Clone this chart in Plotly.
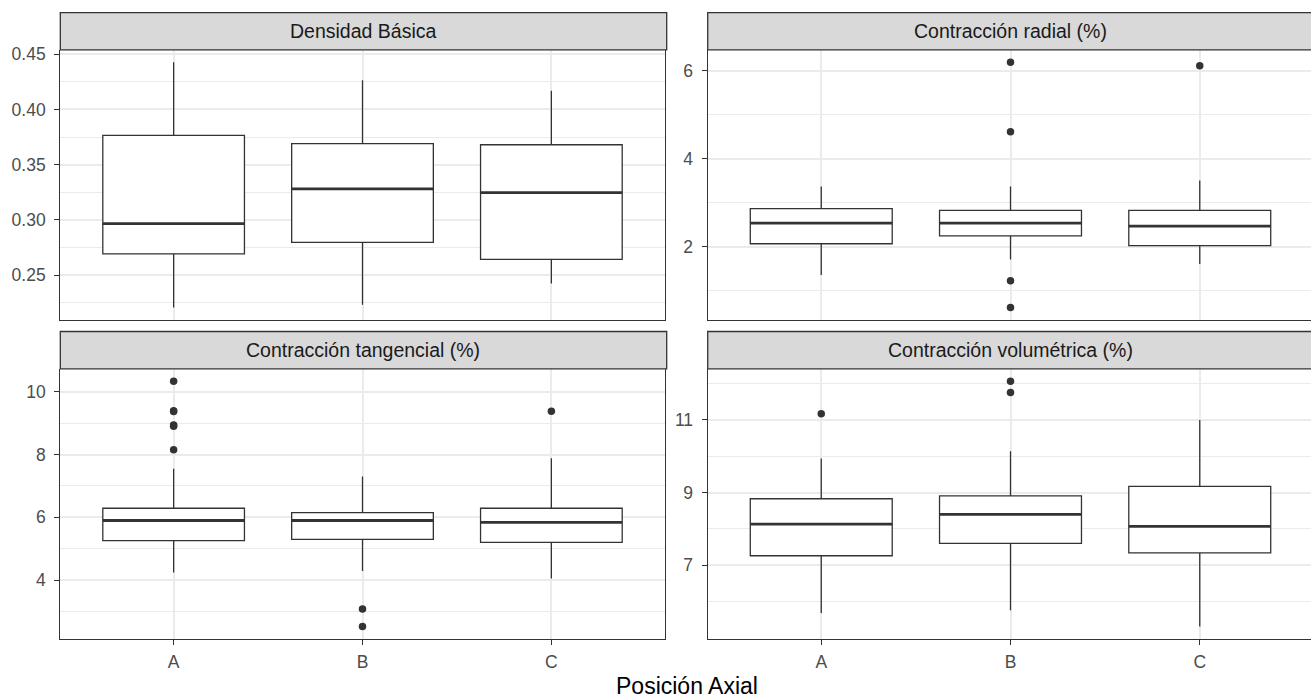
import plotly.graph_objects as go

W, H = 1311, 700

categories = ["A", "B", "C"]
panel_titles = ["Densidad Básica", "Contracción radial (%)",
                "Contracción tangencial (%)", "Contracción volumétrica (%)"]

# Densidad Básica
dens_low = [0.2206, 0.2232, 0.2424]
dens_q1 = [0.2692, 0.2796, 0.2642]
dens_med = [0.2966, 0.3281, 0.3247]
dens_q3 = [0.3765, 0.3690, 0.3680]
dens_high = [0.4428, 0.4265, 0.4169]
dens_out_x = []
dens_out_y = []
dens_ticks = [0.25, 0.30, 0.35, 0.40, 0.45]

# Contracción radial
rad_low = [1.36, 1.71, 1.61]
rad_q1 = [2.07, 2.25, 2.03]
rad_med = [2.54, 2.54, 2.47]
rad_q3 = [2.87, 2.83, 2.83]
rad_high = [3.37, 3.37, 3.51]
rad_out_x = ["B", "B", "B", "B", "C"]
rad_out_y = [6.20, 4.62, 1.23, 0.62, 6.12]
rad_ticks = [2, 4, 6]

# Contracción tangencial
tan_low = [4.24, 4.29, 4.05]
tan_q1 = [5.26, 5.30, 5.20]
tan_med = [5.90, 5.90, 5.84]
tan_q3 = [6.29, 6.15, 6.29]
tan_high = [7.55, 7.30, 7.88]
tan_out_x = ["A", "A", "A", "A", "A", "A", "B", "B", "C"]
tan_out_y = [10.34, 9.40, 9.37, 8.94, 8.90, 8.15, 3.08, 2.52, 9.38]
tan_ticks = [4, 6, 8, 10]

# Contracción volumétrica
vol_low = [5.68, 5.76, 5.31]
vol_q1 = [7.26, 7.60, 7.34]
vol_med = [8.13, 8.40, 8.07]
vol_q3 = [8.83, 8.91, 9.17]
vol_high = [9.94, 10.14, 11.00]
vol_out_x = ["A", "B", "B"]
vol_out_y = [11.17, 12.07, 11.76]
vol_ticks = [7, 9, 11]

panels = [
    (dens_low, dens_q1, dens_med, dens_q3, dens_high, dens_out_x, dens_out_y, dens_ticks, ".2f"),
    (rad_low, rad_q1, rad_med, rad_q3, rad_high, rad_out_x, rad_out_y, rad_ticks, "d"),
    (tan_low, tan_q1, tan_med, tan_q3, tan_high, tan_out_x, tan_out_y, tan_ticks, "d"),
    (vol_low, vol_q1, vol_med, vol_q3, vol_high, vol_out_x, vol_out_y, vol_ticks, "d"),
]

# pixel layout
col_x = [(60.3, 664.7), (707.7, 1313.3)]
row_strip = [(6.7, 44.3), (328.3, 366.0)]
row_plot = [(44.3, 316.5), (366.0, 638.3)]

GRID = "#EBEBEB"
DARK = "#333333"
FONT = "Liberation Sans, Arial, sans-serif"
TICKF = 17.5
BOXW = 0.75

fig = go.Figure()
shapes = []
annotations = []

def px_x(v):
    return v / W

def px_y(v):
    return 1 - v / H

xpos = [i + 1 for i in range(len(categories))]

for k, (low, q1, med, q3, high, ox, oy, ticks, fmt) in enumerate(panels):
    r, c = divmod(k, 2)
    xa = "x" if k == 0 else f"x{k+1}"
    ya = "y" if k == 0 else f"y{k+1}"
    xl = "xaxis" if k == 0 else f"xaxis{k+1}"
    yl = "yaxis" if k == 0 else f"yaxis{k+1}"

    fig.add_trace(go.Box(
        x=xpos, q1=q1, median=med, q3=q3, lowerfence=low, upperfence=high,
        width=BOXW, whiskerwidth=0, fillcolor="white",
        line=dict(color=DARK, width=1.3), boxpoints=False,
        xaxis=xa, yaxis=ya, showlegend=False, hoverinfo="skip"))

    mx, my = [], []
    for i, m in zip(xpos, med):
        mx += [i - BOXW / 2, i + BOXW / 2, None]
        my += [m, m, None]
    fig.add_trace(go.Scatter(x=mx, y=my, mode="lines",
                             line=dict(color=DARK, width=2.8),
                             xaxis=xa, yaxis=ya, showlegend=False, hoverinfo="skip"))

    if ox:
        fig.add_trace(go.Scatter(
            x=[categories.index(v) + 1 for v in ox], y=oy, mode="markers",
            marker=dict(color=DARK, size=7.5, line=dict(width=0)),
            xaxis=xa, yaxis=ya, showlegend=False, hoverinfo="skip"))

    # y range like ggplot (5% expansion)
    allv = low + high + oy
    lo, hi = min(allv), max(allv)
    ext = (hi - lo) * 0.05
    yr = [lo - ext, hi + ext]

    step = ticks[1] - ticks[0]
    minor = [ticks[0] - step / 2] + [t + step / 2 for t in ticks]

    x0p, x1p = col_x[c]
    sp = (x1p - x0p) / 3.2
    dom_x1 = min(x1p, W)
    xr = [0.4, 0.4 + (dom_x1 - x0p) / sp]

    fig.layout[xl] = dict(
        domain=[px_x(x0p), px_x(dom_x1)], range=xr, anchor=ya,
        tickmode="array", tickvals=xpos, ticktext=categories,
        showticklabels=(r == 1), ticks="outside" if r == 1 else "",
        ticklen=5, tickwidth=1.2, tickcolor=DARK,
        showgrid=True, gridcolor=GRID, gridwidth=1.5, zeroline=False,
        showline=True, linecolor=DARK, linewidth=1.3, mirror=False,
        tickfont=dict(family=FONT, size=TICKF, color="#4D4D4D"),
        ticklabelstandoff=2, fixedrange=True)

    y0p, y1p = row_plot[r]
    fig.layout[yl] = dict(
        domain=[px_y(y1p), px_y(y0p)], range=yr, anchor=xa,
        tickmode="array", tickvals=ticks,
        ticktext=[format(t, fmt) if fmt != "d" else str(int(t)) for t in ticks],
        ticks="outside", ticklen=5, tickwidth=1.2, tickcolor=DARK,
        showgrid=True, gridcolor=GRID, gridwidth=1.5, zeroline=False,
        minor=dict(tickmode="array", tickvals=minor, showgrid=True,
                   gridcolor=GRID, gridwidth=0.9, ticks=""),
        showline=True, linecolor=DARK, linewidth=1.3, mirror=(c == 0),
        tickfont=dict(family=FONT, size=TICKF, color="#4D4D4D"),
        ticklabelstandoff=5, fixedrange=True)

    s0, s1 = row_strip[r]
    shapes.append(dict(type="rect", xref="paper", yref="paper",
                       x0=px_x(x0p), x1=px_x(x1p + 2), y0=px_y(s1), y1=px_y(s0),
                       fillcolor="#D9D9D9", line=dict(color=DARK, width=1.3),
                       layer="above"))
    annotations.append(dict(xref="paper", yref="paper",
                            x=px_x((x0p + x1p) / 2), y=px_y((s0 + s1) / 2),
                            text=panel_titles[k], showarrow=False,
                            xanchor="center", yanchor="middle",
                            font=dict(family=FONT, size=19.5, color="#1A1A1A")))

annotations.append(dict(xref="paper", yref="paper",
                        x=px_x((60.3 + 1313.3) / 2), y=px_y(686),
                        text="Posición Axial", showarrow=False,
                        xanchor="center", yanchor="middle",
                        font=dict(family=FONT, size=23, color="black")))

fig.update_layout(
    width=W, height=H, margin=dict(l=0, r=0, t=0, b=0),
    paper_bgcolor="white", plot_bgcolor="white",
    shapes=shapes, annotations=annotations, showlegend=False,
    font=dict(family=FONT))

fig.write_html("out.html", config={"displayModeBar": False},
               post_script="document.body.style.margin='0';"
                           "document.body.style.overflow='hidden';")
